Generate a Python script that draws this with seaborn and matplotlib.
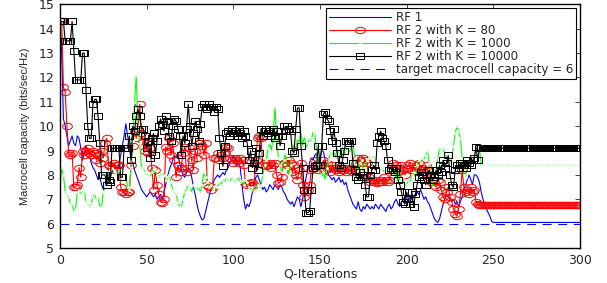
import matplotlib
matplotlib.use("Agg")
import matplotlib.pyplot as plt
from matplotlib.path import Path
from matplotlib.transforms import Affine2D
import seaborn as sns
import numpy as np

# values, one per Q-iteration
rf1 = [
    14.3, 13.0, 10.3, 10.0, 9.6, 9.2, 9.4, 9.6, 9.3, 9.2,
    9.6, 9.5, 9.1, 8.6, 8.9, 9.2, 9.0, 8.8, 8.5, 8.3,
    8.2, 8.0, 7.8, 7.9, 7.6, 7.4, 7.5, 7.8, 8.0, 7.9,
    8.1, 8.3, 8.2, 8.0, 8.4, 8.8, 9.2, 9.6, 10.1, 9.6,
    9.2, 8.6, 8.5, 8.2, 8.0, 7.8, 7.6, 7.4, 7.3, 7.2,
    7.1, 7.2, 7.3, 7.2, 7.1, 7.2, 7.0, 7.1, 7.2, 7.0,
    7.3, 7.6, 7.9, 8.2, 8.4, 8.6, 8.8, 8.7, 8.9, 8.5,
    8.2, 8.0, 7.9, 8.1, 8.3, 8.2, 7.9, 7.5, 7.2, 6.8,
    6.5, 6.3, 6.15, 6.2, 6.5, 6.8, 7.1, 7.4, 7.6, 7.8,
    7.9, 8.0, 7.9, 8.0, 8.1, 8.0, 8.2, 8.3, 8.5, 8.6,
    8.8, 8.6, 8.4, 8.5, 8.3, 7.6, 7.0, 6.6, 6.8, 6.7,
    6.9, 7.3, 7.6, 7.9, 8.0, 7.8, 7.6, 7.4, 7.5, 7.3,
    7.4, 7.6, 7.5, 7.4, 7.6, 7.5, 7.4, 7.6, 7.5, 7.3,
    7.2, 7.0, 6.9, 6.8, 6.9, 6.7, 6.9, 7.1, 7.0, 6.7,
    7.0, 7.5, 7.9, 8.2, 8.5, 8.7, 8.6, 8.8, 8.9, 8.5,
    8.7, 9.0, 8.95, 8.6, 8.2, 8.0, 7.9, 7.8, 7.9, 7.7,
    7.8, 7.9, 7.7, 7.8, 7.6, 7.7, 7.4, 7.2, 7.0, 6.8,
    6.7, 6.6, 6.9, 6.6, 6.5, 6.7, 6.6, 6.8, 6.7, 6.6,
    6.7, 6.6, 6.8, 6.7, 6.6, 6.8, 6.7, 6.6, 6.5, 6.7,
    6.8, 6.6, 6.7, 6.9, 7.0, 6.8, 6.7, 6.9, 7.0, 7.1,
    7.0, 6.9, 7.1, 7.0, 7.1, 7.2, 7.3, 7.2, 7.4, 7.2,
    7.0, 7.1, 6.9, 6.8, 6.6, 6.4, 6.2, 6.1, 6.05, 6.2,
    6.5, 6.8, 7.0, 7.2, 7.1, 7.0, 6.9, 7.0, 6.8, 6.9,
    6.7, 6.9, 7.1, 7.4, 7.6, 7.8, 8.0, 7.8, 7.6, 8.0,
    8.0, 7.9, 7.7, 7.3, 7.0, 6.8, 6.6, 6.45, 6.3, 6.1,
]
rf1 = rf1 + [6.05] * (301 - len(rf1))

k80 = [
    14.3, 14.3, 11.6, 11.4, 10.0, 8.9, 8.8, 8.9, 7.5, 7.5,
    7.6, 8.3, 7.9, 9.0, 8.8, 9.0, 9.1, 8.9, 8.8, 9.0,
    8.9, 8.6, 8.8, 8.5, 9.0, 8.7, 9.3, 9.5, 8.4, 8.35,
    8.3, 8.5, 8.2, 8.4, 8.4, 7.5, 7.3, 7.3, 7.2, 7.3,
    7.3, 8.4, 9.2, 9.8, 9.5, 9.9, 10.9, 9.7, 9.4, 9.0,
    9.3, 8.9, 9.1, 8.3, 7.4, 8.2, 7.6, 7.2, 6.9, 6.85,
    7.0, 9.15, 9.0, 9.5, 8.8, 9.3, 8.6, 7.9, 8.4, 8.1,
    8.3, 8.9, 9.15, 8.1, 8.3, 9.1, 8.6, 8.2, 9.0, 8.7,
    9.3, 9.3, 9.2, 8.8, 9.3, 7.6, 7.5, 7.4, 7.5, 8.7,
    8.7, 8.9, 8.6, 8.8, 8.7, 8.9, 9.15, 9.1, 8.7, 8.6,
    8.5, 8.7, 8.6, 8.5, 8.7, 8.6, 8.4, 7.65, 7.6, 7.65,
    7.6, 7.7, 7.6, 8.6, 9.5, 9.6, 9.5, 8.4, 8.5, 8.35,
    8.4, 8.5, 8.3, 8.4, 8.5, 8.0, 7.65, 7.7, 7.9, 8.5,
    8.5, 8.4, 8.6, 8.5, 8.1, 8.4, 8.0, 7.8, 8.2, 8.5,
    7.6, 7.1, 7.3, 7.4, 7.6, 8.2, 8.3, 8.6, 8.4, 8.2,
    8.4, 8.3, 8.6, 8.2, 8.5, 8.3, 8.1, 8.4, 8.3, 8.2,
    8.3, 8.1, 8.2, 8.3, 8.2, 8.1, 8.3, 8.2, 8.3, 8.1,
    8.2, 8.5, 8.7, 8.6, 8.5, 8.7, 8.6, 8.5, 7.9, 7.7,
    7.8, 7.7, 7.8, 7.65, 7.7, 7.8, 7.7, 7.9, 7.8, 7.7,
    7.8, 8.2, 8.5, 8.3, 8.4, 8.1, 8.3, 8.4, 8.2, 8.0,
    8.3, 8.4, 8.5, 8.2, 8.3, 8.1, 8.4, 8.5, 8.3, 8.2,
    8.1, 8.4, 8.2, 7.9, 7.7, 7.8, 7.6, 7.5, 7.8, 7.7,
    7.4, 7.1, 7.0, 7.3, 7.5, 7.1, 6.9, 6.6, 6.4, 6.3,
    6.6, 7.2, 8.2, 7.5, 7.3, 7.4, 7.2, 7.5, 7.3, 7.4,
    6.9, 6.8, 6.75,
]
k80 = k80 + [6.75] * (301 - len(k80))

k1000 = [
    7.5, 8.3, 8.0, 7.3, 7.2, 7.1, 6.8, 6.8, 6.5, 6.6,
    7.3, 7.4, 7.2, 7.3, 7.4, 6.9, 6.8, 6.7, 6.8, 7.1,
    7.2, 7.0, 7.1, 6.7, 6.7, 7.3, 7.5, 7.7, 8.1, 8.2,
    8.3, 8.2, 8.1, 8.0, 8.2, 8.0, 7.9, 8.0, 7.9, 7.5,
    7.4, 8.3, 9.4, 11.0, 12.1, 10.0, 9.3, 8.3, 8.3, 8.1,
    8.0, 8.0, 7.9, 8.1, 8.3, 8.2, 8.0, 7.9, 8.0, 8.1,
    8.0, 7.8, 7.9, 8.0, 7.7, 7.4, 7.3, 7.2, 6.9, 6.7,
    6.7, 7.0, 7.3, 7.4, 7.6, 7.5, 7.3, 7.6, 7.5, 7.4,
    7.5, 7.3, 7.6, 8.1, 7.9, 7.7, 7.5, 7.6, 7.4, 7.5,
    7.6, 7.5, 7.7, 7.6, 7.8, 7.7, 7.9, 7.8, 7.7, 7.9,
    7.8, 7.7, 7.8, 7.9, 7.7, 7.8, 7.6, 7.8, 7.7, 7.5,
    7.4, 7.5, 7.3, 7.4, 7.6, 7.5, 7.6, 8.0, 8.4, 8.6,
    9.1, 9.3, 9.0, 9.6, 10.8, 9.5, 8.7, 8.4, 8.1, 8.6,
    8.9, 8.3, 8.0, 8.4, 9.0, 9.3, 9.0, 9.5, 9.3, 9.8,
    9.2, 9.6, 9.1, 9.3, 9.5, 9.4, 9.8, 9.7, 9.0, 8.5,
    8.0, 7.9, 8.1, 7.8, 8.3, 8.6, 8.9, 8.8, 9.0, 8.7,
    9.1, 8.9, 8.7, 9.2, 8.8, 9.0, 9.1, 8.9, 9.2, 9.45,
    8.7, 8.4, 8.2, 8.5, 8.6, 8.1, 8.3, 8.6, 8.7, 8.75,
    8.7, 8.75, 8.6, 8.4, 8.3, 8.2, 8.3, 8.1, 8.2, 8.2,
    8.25, 8.2, 8.0, 8.3, 7.8, 8.2, 7.8, 7.7, 7.9, 7.5,
    7.6, 7.8, 7.7, 8.0, 8.1, 7.9, 8.4, 8.6, 8.5, 8.7,
    8.6, 8.8, 9.0, 8.5, 7.9, 7.5, 7.8, 8.2, 8.7, 9.1,
    9.0, 9.1, 8.9, 8.7, 8.6, 8.5, 8.6, 9.2, 9.7, 10.0,
    9.8, 9.5, 8.7, 8.0, 7.9, 8.4, 8.6, 8.5, 8.6, 8.6,
    9.1, 9.1, 9.1,
]
k1000 = k1000 + [8.4] * (301 - len(k1000))

k10000 = [
    14.3, 14.3, 14.3, 13.5, 13.5, 13.5, 13.5, 14.3, 13.1, 11.9,
    11.9, 11.9, 11.9, 13.0, 13.0, 11.5, 10.0, 9.5, 9.5, 10.9,
    11.1, 11.1, 10.4, 9.3, 8.0, 8.0, 8.0, 7.6, 7.8, 7.7,
    9.1, 9.1, 9.1, 9.1, 9.1, 7.9, 7.9, 9.1, 9.1, 9.1,
    9.6, 8.6, 10.0, 9.8, 10.4, 10.7, 10.4, 9.9, 9.9, 9.6,
    9.1, 9.4, 8.7, 9.5, 9.7, 8.8, 9.4, 10.0, 10.3, 10.1,
    9.8, 10.4, 10.2, 9.6, 9.4, 10.0, 10.3, 10.2, 9.9, 9.6,
    8.8, 9.6, 9.3, 9.9, 10.9, 10.0, 9.2, 9.7, 10.2, 9.9,
    9.4, 10.1, 10.8, 10.9, 10.8, 10.7, 10.9, 10.8, 10.8, 10.6,
    10.8, 10.7, 9.5, 8.9, 8.35, 9.2, 9.7, 9.8, 9.6, 9.9,
    9.7, 9.8, 9.6, 9.9, 9.7, 9.5, 9.8, 9.6, 9.3, 8.6,
    9.0, 8.3, 8.5, 9.1, 8.2, 8.9, 9.9, 9.6, 9.8, 9.9,
    9.7, 9.8, 9.6, 9.9, 9.5, 9.8, 9.6, 9.2, 9.6, 10.0,
    9.8, 10.0, 9.9, 9.8, 9.0, 8.9, 9.9, 10.75, 10.75, 9.2,
    8.3, 7.4, 6.45, 6.45, 6.5, 7.4, 8.3, 8.35, 8.4, 9.2,
    8.4, 9.2, 10.5, 10.6, 10.3, 10.2, 9.8, 9.4, 9.9, 9.3,
    8.9, 8.4, 8.3, 8.6, 9.0, 9.4, 9.4, 9.3, 9.4, 8.5,
    8.2, 7.9, 7.8, 8.1, 7.9, 8.0, 7.6, 7.1, 7.1, 8.0,
    8.2, 8.4, 8.2, 9.3, 9.6, 9.8, 9.5, 9.4, 9.2, 8.6,
    8.2, 8.3, 8.2, 8.1, 8.3, 7.8, 7.6, 7.3, 6.9, 6.8,
    7.3, 7.0, 6.8, 7.3, 6.7, 7.2, 7.6, 7.9, 8.1, 8.0,
    7.8, 7.6, 8.0, 8.2, 8.0, 7.8, 7.9, 8.2, 8.0, 8.4,
    8.1, 8.6, 8.3, 8.5, 8.8, 8.0, 7.6, 7.5, 8.2, 8.4,
    8.3, 8.5, 8.5, 8.4, 8.3, 8.6, 8.5, 8.4, 8.6, 8.7,
    9.15, 8.6, 9.1,
]
k10000 = k10000 + [9.1] * (301 - len(k10000))

target = 6
xticks = [0, 50, 100, 150, 200, 250, 300]
yticks = [5, 6, 7, 8, 9, 10, 11, 12, 13, 14, 15]

sns.set_style("white")
plt.rcParams['font.family'] = ['DejaVu Sans']
plt.rcParams['font.size'] = 9

# the reference is squashed a little, so circles and squares come out wide
ellipse = Path.unit_circle().transformed(Affine2D().scale(1.0, 0.66))
box = Path([(-1, -0.75), (1, -0.75), (1, 0.75), (-1, 0.75), (-1, -0.75)],
           [Path.MOVETO, Path.LINETO, Path.LINETO, Path.LINETO, Path.CLOSEPOLY])

fig = plt.figure(figsize=(6.07, 2.83), dpi=100)
ax = fig.add_axes([0.0988, 0.1237, 0.8567, 0.8608])

it = np.arange(301)
sns.lineplot(x=it, y=rf1, ax=ax, color='#0000ff', lw=0.8, label='RF 1')
sns.lineplot(x=it, y=k80, ax=ax, color='#ff0000', lw=0.8, marker=ellipse,
             markersize=7, markerfacecolor='none', markeredgecolor='#ff0000',
             markeredgewidth=0.7, label='RF 2 with K = 80')
sns.lineplot(x=it, y=k1000, ax=ax, color='#00ff00', lw=0.8, marker='.',
             markersize=2.5, label='RF 2 with K = 1000')
sns.lineplot(x=it, y=k10000, ax=ax, color='#000000', lw=0.8, marker=box,
             markersize=6, markerfacecolor='none', markeredgecolor='#000000',
             markeredgewidth=0.7, label='RF 2 with K = 10000')
ax.axhline(target, color='#0000ff', lw=0.8, ls=(0, (8, 6)),
           label='target macrocell capacity = 6')

ax.set_xlim(0, 300)
ax.set_ylim(5, 15)
ax.set_xticks(xticks)
ax.set_yticks(yticks)
ax.tick_params(direction='in', length=3.5, width=0.6, top=True, right=True,
               labelsize=9, pad=4)
for s in ax.spines.values():
    s.set_linewidth(1.0)
    s.set_color('black')
ax.set_xlabel('Q-Iterations', fontsize=9, labelpad=1)
ax.set_ylabel('Macrocell capacity (bits/sec/Hz)',
              family=['Liberation Sans Narrow', 'Liberation Sans'],
              fontsize=8, labelpad=6)

leg = ax.legend(loc='upper right', fontsize=8.6, frameon=True, fancybox=False,
                edgecolor='black', framealpha=1, borderaxespad=0.3,
                handlelength=5.2, labelspacing=0.0, borderpad=0.25,
                handletextpad=0.4, numpoints=1)
leg.get_frame().set_linewidth(0.8)

fig.savefig('out.png', dpi=100)
